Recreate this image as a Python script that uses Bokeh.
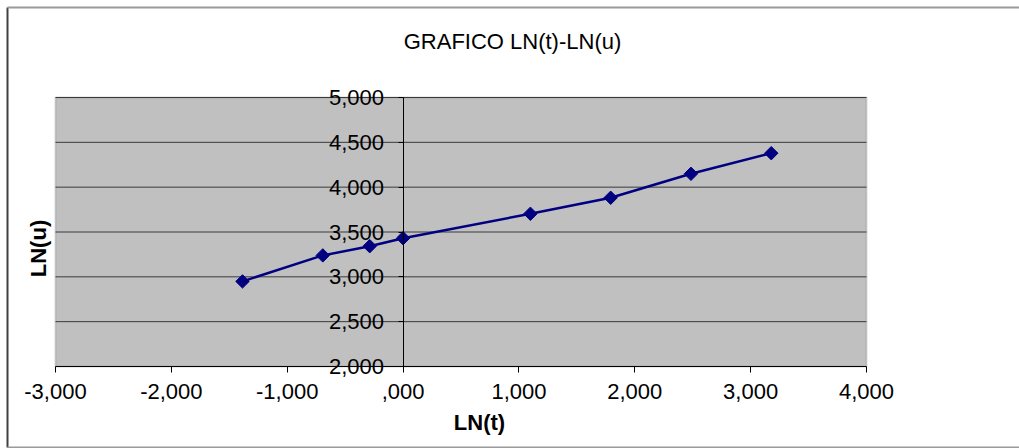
import math
from bokeh.plotting import figure
from bokeh.models import LinearAxis, FixedTicker, Label, Range1d, BoxAnnotation
from bokeh.embed import file_html
from bokeh.resources import INLINE

# ---- data ----
ln_t = [-1.386, -0.693, -0.288, 0.0, 1.099, 1.792, 2.485, 3.178]
ln_u = [2.949, 3.239, 3.342, 3.431, 3.703, 3.882, 4.149, 4.379]
x_ticks = [-3, -2, -1, 0, 1, 2, 3, 4]
x_tick_labels = ["-3,000", "-2,000", "-1,000", ",000", "1,000", "2,000", "3,000", "4,000"]
y_ticks = [2.0, 2.5, 3.0, 3.5, 4.0, 4.5, 5.0]
y_tick_labels = ["2,000", "2,500", "3,000", "3,500", "4,000", "4,500", "5,000"]
title_text = "GRAFICO LN(t)-LN(u)"
x_title = "LN(t)"
y_title = "LN(u)"

FONT = "Liberation Sans"

# ---- layout (pixels) ----
W, H = 1019, 448
X_MIN, X_MAX = x_ticks[0], x_ticks[-1]
Y_MIN, Y_MAX = y_ticks[0], y_ticks[-1]
PL, PR, PT, PB = 55, 866, 97, 366          # plot-area edges in canvas pixels
kx = (X_MAX - X_MIN) / (PR - PL)
ky = (Y_MAX - Y_MIN) / (PB - PT)
BOTTOM_EDGE = 447


def px2x(px):
    return X_MIN + (px - PL) * kx


def px2y(py):
    return Y_MAX - (py - PT) * ky


p = figure(width=W, height=H, output_backend="svg", toolbar_location=None,
           x_range=Range1d(px2x(0), px2x(W)), y_range=Range1d(px2y(H), px2y(0)),
           x_axis_location=None, y_axis_location=None,
           min_border=0, min_border_left=0, min_border_right=0,
           min_border_top=0, min_border_bottom=0)
p.outline_line_color = None
p.background_fill_color = "white"
p.border_fill_color = "white"
p.grid.visible = False

# outer chart border (left, top, bottom edges)
p.segment(x0=[px2x(7), px2x(7), px2x(7)],
          y0=[px2y(7), px2y(7), px2y(BOTTOM_EDGE)],
          x1=[px2x(7), px2x(W), px2x(W)],
          y1=[px2y(BOTTOM_EDGE), px2y(7), px2y(BOTTOM_EDGE)],
          line_color=["#404040", "#9a9a9a", "#9a9a9a"], line_width=2, level="image")

# gray plot area
p.add_layout(BoxAnnotation(left=X_MIN, right=X_MAX, bottom=Y_MIN, top=Y_MAX,
                           fill_color="#C0C0C0", fill_alpha=1.0,
                           line_color="#808080", line_width=2, level="image"))

# horizontal gridlines across the plot area only
inner = y_ticks[1:]
p.segment(x0=[X_MIN] * len(inner), y0=inner, x1=[X_MAX] * len(inner), y1=inner,
          line_color="#3a3a3a", line_width=1, level="underlay")

# x axis along the bottom of the plot area
xa = LinearAxis(fixed_location=Y_MIN, ticker=FixedTicker(ticks=x_ticks), bounds=(X_MIN, X_MAX))
xa.major_label_overrides = {t: l for t, l in zip(x_ticks, x_tick_labels)}
xa.major_label_text_font = FONT
xa.major_label_text_font_size = "22px"
xa.major_label_text_color = "black"
xa.axis_line_color = "black"
xa.axis_line_width = 1
xa.major_tick_out = 6
xa.major_tick_in = 0
xa.major_tick_line_color = "black"
xa.minor_tick_line_color = None
xa.major_label_standoff = 11
p.add_layout(xa, "below")

# y axis crossing at x = 0
ya = LinearAxis(fixed_location=0, ticker=FixedTicker(ticks=y_ticks), bounds=(Y_MIN, Y_MAX))
ya.major_label_overrides = {t: l for t, l in zip(y_ticks, y_tick_labels)}
ya.major_label_text_font = FONT
ya.major_label_text_font_size = "22px"
ya.major_label_text_color = "black"
ya.axis_line_color = "black"
ya.major_tick_out = 5
ya.major_tick_in = 0
ya.major_tick_line_color = "black"
ya.minor_tick_line_color = None
ya.major_label_standoff = 14
p.add_layout(ya, "left")

# series
p.line(ln_t, ln_u, line_color="#000080", line_width=2.5)
p.scatter(ln_t, ln_u, marker="square", angle=math.pi / 4, size=9.5,
          fill_color="#000080", line_color="#000080")

# titles
p.add_layout(Label(x=px2x(512), y=px2y(41), text=title_text, text_font=FONT,
                   text_font_size="22px", text_align="center", text_baseline="middle",
                   text_color="black"))
p.add_layout(Label(x=px2x(479), y=px2y(422), text=x_title, text_font=FONT,
                   text_font_size="22px", text_font_style="bold",
                   text_align="center", text_baseline="middle", text_color="black"))
p.add_layout(Label(x=px2x(37.5), y=px2y(248), text=y_title, text_font=FONT,
                   text_font_size="22px", text_font_style="bold", angle=math.pi / 2,
                   text_align="center", text_baseline="middle", text_color="black"))

open("out.html", "w").write(file_html(p, INLINE))
